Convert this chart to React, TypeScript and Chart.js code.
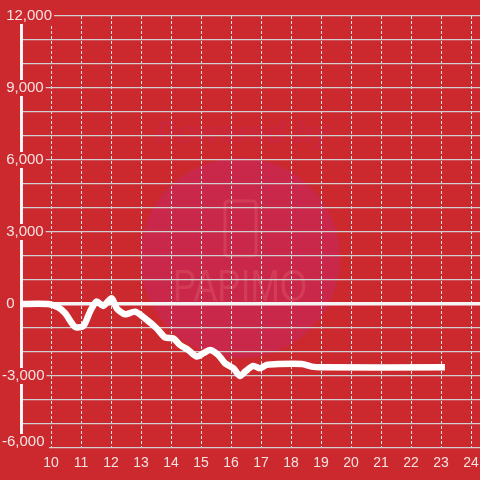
import React, { useEffect, useRef } from 'react';
import { Chart, registerables } from 'chart.js';

Chart.register(...registerables);

// ---- data ----
const hours = [8.9, 9.91, 10.24, 10.47, 10.8, 11.08, 11.3, 11.52, 11.74, 12.02, 12.19, 12.47, 12.8, 13.13, 13.52, 13.8, 14.08, 14.3, 14.58, 14.86, 15.08, 15.3, 15.58, 15.8, 16.08, 16.3, 16.47, 16.74, 16.97, 17.19, 17.58, 18.36, 18.69, 19.0, 23.13];
const diffValues = [0, 0, -140, -380, -950, -920, -320, 100, -80, 240, -180, -430, -320, -600, -1010, -1390, -1430, -1710, -1920, -2190, -2050, -1920, -2130, -2470, -2680, -3000, -2820, -2580, -2680, -2540, -2500, -2500, -2610, -2640, -2640];

const xMin = 9;
const xMax = 24.3;
const xFirstLabel = 10;
const yMin = -6000;
const yMax = 12000;
const yGridStep = 1000;
const yLabelStep = 3000;

// ---- styles ----
const BG = '#cc292e';
const LABEL = '#f6e2e2';
const FONT = '"Liberation Sans", Arial, sans-serif';

const fmt = (v: number) => (v < 0 ? '' : ' ') + v.toLocaleString('en-US');

const bgPlugin = {
  id: 'bgWatermark',
  beforeDraw(chart: any) {
    const { ctx, width, height } = chart;
    ctx.save();
    ctx.fillStyle = BG;
    ctx.fillRect(0, 0, width, height);
    // watermark
    ctx.fillStyle = '#c9284a';
    ctx.beginPath();
    ctx.arc(240, 258, 100, 0, Math.PI * 2);
    ctx.fill();
    ctx.fillStyle = 'rgba(200,38,78,0.45)';
    ctx.font = 'italic bold 31px ' + FONT;
    ctx.textAlign = 'center';
    ctx.textBaseline = 'middle';
    ctx.fillText('Powered by', 243, 134, 186);
    ctx.strokeStyle = 'rgba(235,110,120,0.3)';
    ctx.lineWidth = 3;
    ctx.beginPath();
    (ctx as any).roundRect(225, 201, 31, 55, 3);
    ctx.stroke();
    ctx.fillStyle = 'rgba(235,110,120,0.3)';
    ctx.font = '300 44px ' + FONT;
    ctx.fillText('PAPIMO', 240, 289, 134);
    ctx.restore();
  },
  afterDraw(chart: any) {
    const { ctx } = chart;
    const y = chart.scales.y.getPixelForValue(yMin) - 6;
    const txt = fmt(yMin);
    ctx.save();
    ctx.font = '15px ' + FONT;
    ctx.fillStyle = BG;
    ctx.fillRect(0, y - 8, 49, 451 - (y - 8));
    ctx.fillStyle = LABEL;
    ctx.textAlign = 'left';
    ctx.textBaseline = 'middle';
    ctx.fillText(txt, 2, y);
    ctx.restore();
  },
};

export default function App() {
  const ref = useRef<HTMLCanvasElement>(null);

  useEffect(() => {
    document.body.style.margin = '0';
    const canvas = ref.current;
    if (!canvas) return;
    const points = hours.map((h, i) => ({ x: h, y: diffValues[i] }));
    const chart = new Chart(canvas, {
      type: 'line',
      data: {
        datasets: [
          {
            data: points,
            borderColor: '#ffffff',
            borderWidth: 6.5,
            pointRadius: 0,
            tension: 0.25,
            borderJoinStyle: 'round',
            fill: false,
          },
        ],
      },
      options: {
        animation: false,
        responsive: false,
        devicePixelRatio: 1,
        layout: { padding: { top: 16, right: 0, left: 0, bottom: 0 } },
        plugins: { legend: { display: false }, tooltip: { enabled: false } },
        scales: {
          x: {
            type: 'linear',
            min: xMin,
            max: xMax,
            ticks: {
              stepSize: 1,
              includeBounds: false,
              autoSkip: false,
              maxRotation: 0,
              padding: 0,
              color: LABEL,
              font: { family: FONT, size: 14 },
              callback: (v: any) => (v >= xFirstLabel ? String(v) : ''),
            },
            grid: {
              color: '#e4e4e4',
              lineWidth: 1,
              drawTicks: true,
              tickLength: 7,
              tickColor: 'rgba(0,0,0,0)',
            },
            border: { display: false, dash: [3, 2] },
            afterFit: (s: any) => {
              s.height = 32;
            },
          },
          y: {
            type: 'linear',
            min: yMin,
            max: yMax,
            ticks: {
              stepSize: yGridStep,
              autoSkip: false,
              mirror: true,
              padding: -19,
              color: LABEL,
              font: { family: FONT, size: 15, lineHeight: 1 },
              callback: (v: any) => (v % yLabelStep === 0 && v !== yMin ? fmt(v) : ''),
              showLabelBackdrop: (c: any) =>
                !!c.tick && c.tick.value % yLabelStep === 0 && c.tick.value !== yMin,
              backdropColor: BG,
              backdropPadding: { left: 2, right: 2, top: 0.5, bottom: 0.5 },
            },
            grid: {
              color: (c: any) => (c.tick && c.tick.value === 0 ? '#f4f4f4' : '#cfcfcf'),
              lineWidth: (c: any) => (c.tick && c.tick.value === 0 ? 3.5 : 1.3),
              drawTicks: false,
            },
            border: { display: true, color: '#f4f4f4', width: 3 },
            afterFit: (s: any) => {
              s.width = 21;
            },
          },
        },
      },
      plugins: [bgPlugin],
    } as any);
    return () => chart.destroy();
  }, []);

  return (
    <div style={{ width: 480, height: 480 }}>
      <canvas ref={ref} width={480} height={480} style={{ display: 'block' }} />
    </div>
  );
}
